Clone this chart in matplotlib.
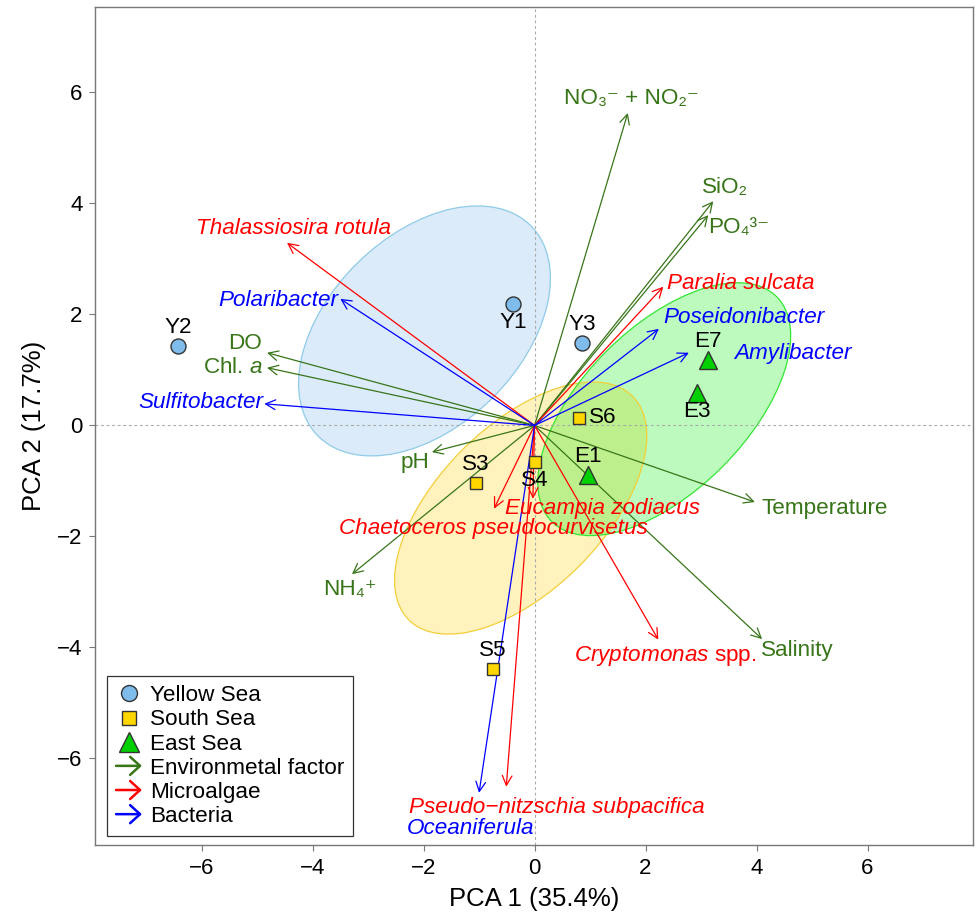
import numpy as np
import matplotlib
matplotlib.use('Agg')
import matplotlib.pyplot as plt
from matplotlib.patches import Ellipse, FancyArrowPatch
from matplotlib.lines import Line2D
from matplotlib.legend_handler import HandlerBase

plt.rcParams['font.family'] = ['Liberation Sans', 'DejaVu Sans']
plt.rcParams['mathtext.fontset'] = 'custom'
plt.rcParams['mathtext.rm'] = 'Liberation Sans'
plt.rcParams['mathtext.it'] = 'Liberation Sans:italic'

# site scores
yellow_names = ['Y1', 'Y2', 'Y3']
yellow_x = [-0.39, -6.42, 0.86]
yellow_y = [2.19, 1.43, 1.49]
south_names = ['S3', 'S4', 'S5', 'S6']
south_x = [-1.05, 0.0, -0.75, 0.80]
south_y = [-1.04, -0.66, -4.39, 0.135]
east_names = ['E1', 'E3', 'E7']
east_x = [0.96, 2.92, 3.13]
east_y = [-0.89, 0.59, 1.18]

# which side of the marker each site label sits on
yellow_side = ['below', 'above', 'above']
south_side = ['above', 'below', 'above', 'right']
east_side = ['above', 'below', 'above']

# ellipse shape per sea (width, height, angle)
ell_width = [5.39, 5.70, 5.73]
ell_height = [3.44, 2.97, 2.95]
ell_angle = [44.5, 45.0, 45.0]

# loadings: environmental factors
env_names = ['NO\u2083\u207b + NO\u2082\u207b', 'SiO\u2082', 'PO\u2084\u00b3\u207b', 'Temperature',
             'Salinity', 'NH\u2084\u207a', 'pH', 'DO', r'Chl. $\it{a}$']
env_x = [1.68, 3.22, 3.13, 3.97, 4.10, -3.29, -1.85, -4.82, -4.82]
env_y = [5.63, 4.04, 3.79, -1.38, -3.85, -2.68, -0.48, 1.31, 1.04]
env_lab_x = [1.74, 3.43, 3.68, 5.23, 4.74, -3.32, -2.15, -5.22, -5.44]
env_lab_y = [5.90, 4.28, 3.56, -1.50, -4.06, -2.96, -0.66, 1.47, 1.05]

# loadings: microalgae
alg_names = ['Thalassiosira rotula', 'Paralia sulcata', 'Chaetoceros pseudocurvisetus',
             'Eucampia zodiacus', r'$\it{Cryptomonas}$ spp.', 'Pseudo\u2212nitzschia subpacifica']
alg_x = [-4.46, 2.32, -0.73, -0.03, 2.23, -0.51]
alg_y = [3.29, 2.50, -1.50, -1.32, -3.86, -6.51]
alg_lab_x = [-4.35, 3.72, -0.74, 1.22, 2.36, 0.41]
alg_lab_y = [3.54, 2.55, -1.85, -1.50, -4.15, -6.89]

# loadings: bacteria
bac_names = ['Polaribacter', 'Sulfitobacter', 'Poseidonibacter', 'Amylibacter', 'Oceaniferula']
bac_x = [-3.50, -4.87, 2.24, 2.78, -1.00]
bac_y = [2.28, 0.39, 1.74, 1.31, -6.62]
bac_lab_x = [-4.62, -6.01, 3.78, 4.65, -1.15]
bac_lab_y = [2.26, 0.42, 1.95, 1.29, -7.27]

env_col = '#387519'
alg_col = '#FF0000'
bac_col = '#0000FF'
fs = 16.2


class ArrowHandler(HandlerBase):
    def create_artists(self, legend, orig_handle, xdescent, ydescent,
                       width, height, fontsize, trans):
        y = (height - ydescent) / 2
        arr = FancyArrowPatch((-xdescent, y), (-xdescent + width, y),
                              arrowstyle='->,head_length=0.55,head_width=0.5',
                              mutation_scale=13, color=orig_handle.get_color(),
                              lw=1.8, shrinkA=0, shrinkB=0, transform=trans)
        return [arr]


fig = plt.figure(figsize=(9.76, 9.18), dpi=100)
ax = fig.add_axes([95 / 976, 73 / 918, 878 / 976, 838 / 918])
ax.set_xlim(-7.92, 7.90)
ax.set_ylim(-7.56, 7.54)

ax.axhline(0, color='#aaaaaa', lw=0.8, ls=(0, (2.5, 2.5)), zorder=1.5)
ax.axvline(0, color='#aaaaaa', lw=0.8, ls=(0, (2.5, 2.5)), zorder=1.5)

groups = [
    (yellow_names, yellow_x, yellow_y, yellow_side, 'o', '#7FBCEB', '#77B3EB', '#8FCBE8', 10.8),
    (south_names, south_x, south_y, south_side, 's', '#FFD700', '#FFD000', '#F2CF3A', 8.2),
    (east_names, east_x, east_y, east_side, '^', '#00D000', '#00EE00', '#33E633', 13),
]

for i, (names, xs, ys, sides, mk, fc, fillc, edgec, ms) in enumerate(groups):
    cx, cy = np.mean(xs), np.mean(ys)
    ax.add_patch(Ellipse((cx, cy), ell_width[i], ell_height[i], angle=ell_angle[i],
                         facecolor=fillc, alpha=0.26, edgecolor='none', zorder=1))
    ax.add_patch(Ellipse((cx, cy), ell_width[i], ell_height[i], angle=ell_angle[i],
                         facecolor='none', edgecolor=edgec, lw=0.9, zorder=1.2))

for xs, ys, lxs, lys, names, col, style in [
        (env_x, env_y, env_lab_x, env_lab_y, env_names, env_col, 'normal'),
        (alg_x, alg_y, alg_lab_x, alg_lab_y, alg_names, alg_col, 'italic'),
        (bac_x, bac_y, bac_lab_x, bac_lab_y, bac_names, bac_col, 'italic')]:
    for x, y, lx, ly, name in zip(xs, ys, lxs, lys, names):
        ax.annotate('', xy=(x, y), xytext=(0, 0),
                    arrowprops=dict(arrowstyle='->,head_length=0.5,head_width=0.25',
                                    color=col, lw=0.9, shrinkA=0, shrinkB=0,
                                    mutation_scale=14), zorder=2)
        st = 'normal' if 'spp' in name else style
        ax.text(lx, ly, name, color=col, fontsize=fs, style=st,
                ha='center', va='center', zorder=4)

offsets = {'above': (0, 13.5), 'below': (0, -13.5), 'right': (17, 0)}
for names, xs, ys, sides, mk, fc, fillc, edgec, ms in groups:
    ax.plot(xs, ys, ls='none', marker=mk, ms=ms, mfc=fc, mec='#333333', mew=1, zorder=3)
    for n, x, y, s in zip(names, xs, ys, sides):
        ax.annotate(n, (x, y), xytext=offsets[s], textcoords='offset points',
                    ha='center', va='center', fontsize=fs, color='black', zorder=4)

ax.set_xticks([-6, -4, -2, 0, 2, 4, 6])
ax.set_yticks([-6, -4, -2, 0, 2, 4, 6])
ax.tick_params(direction='out', length=4, color='#777777', labelsize=16, pad=5)
for sp in ax.spines.values():
    sp.set_color('#777777')
    sp.set_linewidth(1)
ax.set_xlabel('PCA 1 (35.4%)', fontsize=18.5, labelpad=6)
ax.set_ylabel('PCA 2 (17.7%)', fontsize=18.5, labelpad=8)

h_env = Line2D([], [], color=env_col, label='Environmetal factor')
h_alg = Line2D([], [], color=alg_col, label='Microalgae')
h_bac = Line2D([], [], color=bac_col, label='Bacteria')
handles = [
    Line2D([], [], ls='none', marker='o', ms=11.5, mfc='#7FBCEB', mec='#333333', label='Yellow Sea'),
    Line2D([], [], ls='none', marker='s', ms=9.5, mfc='#FFD700', mec='#333333', label='South Sea'),
    Line2D([], [], ls='none', marker='^', ms=14, mfc='#00D000', mec='#333333', label='East Sea'),
    h_env, h_alg, h_bac,
]
leg = ax.legend(handles=handles, loc='lower left', bbox_to_anchor=(0.0137, 0.0107),
                borderaxespad=0, fontsize=fs, frameon=True, fancybox=False,
                edgecolor='#333333', framealpha=1, labelspacing=0.14,
                handlelength=1.15, handletextpad=0.35, borderpad=0.4,
                handler_map={h_env: ArrowHandler(), h_alg: ArrowHandler(), h_bac: ArrowHandler()})
leg.get_frame().set_linewidth(0.9)
leg.set_zorder(5)

fig.savefig('out.png', dpi=100)
